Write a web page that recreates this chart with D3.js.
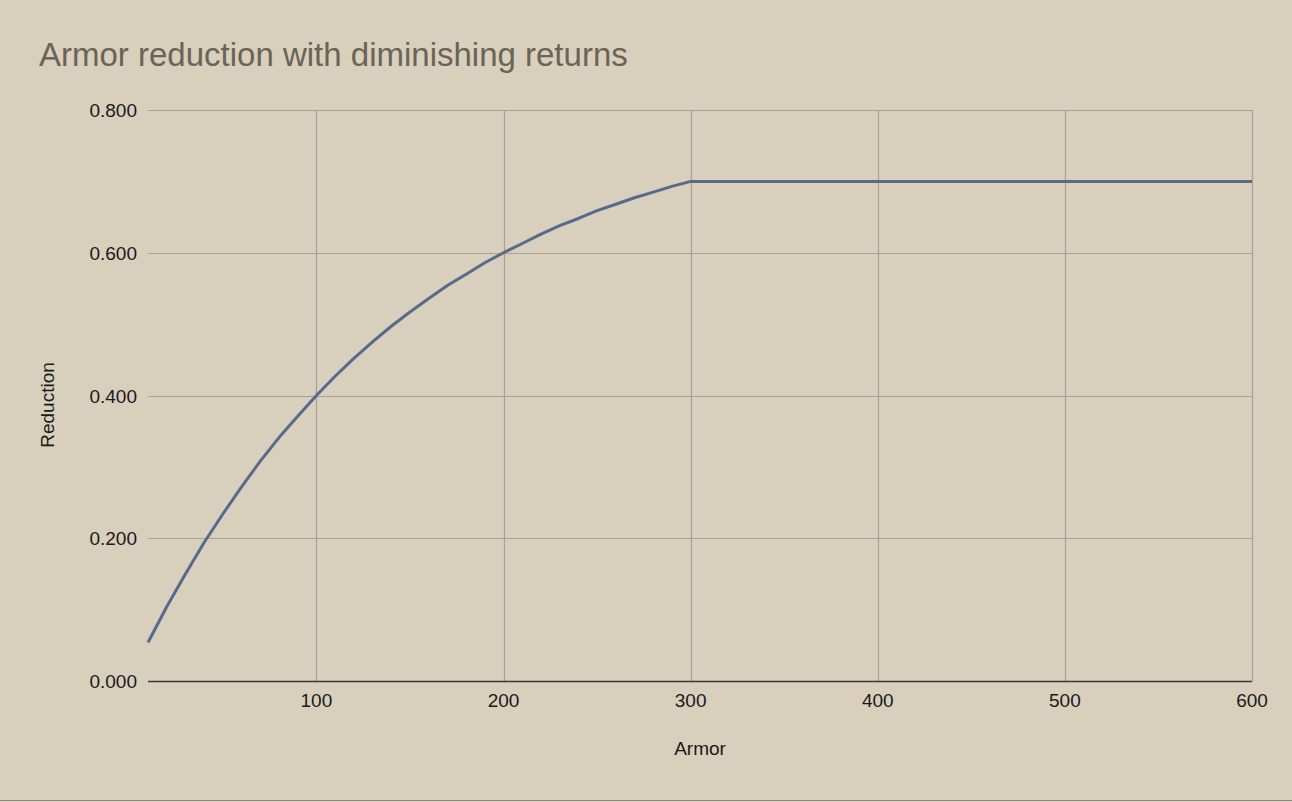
<!DOCTYPE html>
<html>
<head>
<meta charset="utf-8">
<script src="https://cdn.jsdelivr.net/npm/d3@7"></script>
<style>
  html, body { margin: 0; padding: 0; background: #d9cfbd; }
  svg { display: block; font-family: "Liberation Sans", Arial, sans-serif; }
</style>
</head>
<body>
<svg id="chart" width="1292" height="802"></svg>
<script>
// Data
const armor = [10, 20, 30, 40, 50, 60, 70, 80, 90, 100, 110, 120, 130, 140, 150, 160, 170, 180, 190, 200, 210, 220, 230, 240, 250, 260, 270, 280, 290, 300, 400, 500, 600];
const reduction = [0.054, 0.104, 0.150, 0.194, 0.234, 0.272, 0.308, 0.341, 0.371, 0.400, 0.427, 0.452, 0.475, 0.497, 0.517, 0.536, 0.554, 0.570, 0.586, 0.600, 0.613, 0.626, 0.638, 0.648, 0.659, 0.668, 0.677, 0.685, 0.693, 0.700, 0.700, 0.700, 0.700];
const xTicks = [100, 200, 300, 400, 500, 600];
const yTicks = [0, 0.2, 0.4, 0.6, 0.8];

(function () {
const svg = d3.select("#chart");
const W = 1292, H = 802;
const pL = 148, pR = 1252, pT = 110, pB = 681;

svg.append("rect").attr("width", W).attr("height", H).attr("fill", "#d9cfbd");

const x = d3.scaleLinear().domain([10, 600]).range([pL, pR]);
const y = d3.scaleLinear().domain([0, 0.8]).range([pB, pT]);

// Title
svg.append("text").attr("x", 39).attr("y", 66)
  .attr("font-size", 33).attr("fill", "#6b6456")
  .text("Armor reduction with diminishing returns");

// Horizontal gridlines
svg.append("g").selectAll("line").data(yTicks.filter(d => d > 0)).join("line")
  .attr("x1", pL).attr("x2", pR)
  .attr("y1", d => Math.round(y(d)) + 0.5).attr("y2", d => Math.round(y(d)) + 0.5)
  .attr("stroke", "#aaa192").attr("stroke-width", 1.2);

// Vertical gridlines
svg.append("g").selectAll("line").data(xTicks).join("line")
  .attr("x1", d => Math.round(x(d)) + 0.5).attr("x2", d => Math.round(x(d)) + 0.5)
  .attr("y1", pT).attr("y2", pB)
  .attr("stroke", "#aaa192").attr("stroke-width", 1.2);

// Baseline
svg.append("line").attr("x1", pL).attr("x2", pR)
  .attr("y1", pB + 0.5).attr("y2", pB + 0.5)
  .attr("stroke", "#3e372c").attr("stroke-width", 1.4);

// Y tick labels
svg.append("g").selectAll("text").data(yTicks).join("text")
  .attr("x", 137).attr("y", d => y(d) + 7)
  .attr("text-anchor", "end").attr("font-size", 19).attr("fill", "#1a1a1a")
  .text(d => d3.format(".3f")(d));

// X tick labels
svg.append("g").selectAll("text").data(xTicks).join("text")
  .attr("x", d => x(d)).attr("y", 707)
  .attr("text-anchor", "middle").attr("font-size", 19).attr("fill", "#1a1a1a")
  .text(d => d);

// Axis titles
svg.append("text").attr("x", 700).attr("y", 755)
  .attr("text-anchor", "middle").attr("font-size", 19).attr("fill", "#1a1a1a")
  .text("Armor");
svg.append("text").attr("transform", "translate(54,405) rotate(-90)")
  .attr("text-anchor", "middle").attr("font-size", 19).attr("fill", "#1a1a1a")
  .text("Reduction");

// Line
const line = d3.line().x((d, i) => x(armor[i])).y(d => y(d)).curve(d3.curveLinear);
svg.append("path").datum(reduction)
  .attr("d", line).attr("fill", "none")
  .attr("stroke", "#586a8b").attr("stroke-width", 3)
  .attr("stroke-linejoin", "round");

// Bottom border
svg.append("line").attr("x1", 0).attr("x2", W).attr("y1", 800.5).attr("y2", 800.5)
  .attr("stroke", "#8c877e").attr("stroke-width", 1);
})();
</script>
</body>
</html>
